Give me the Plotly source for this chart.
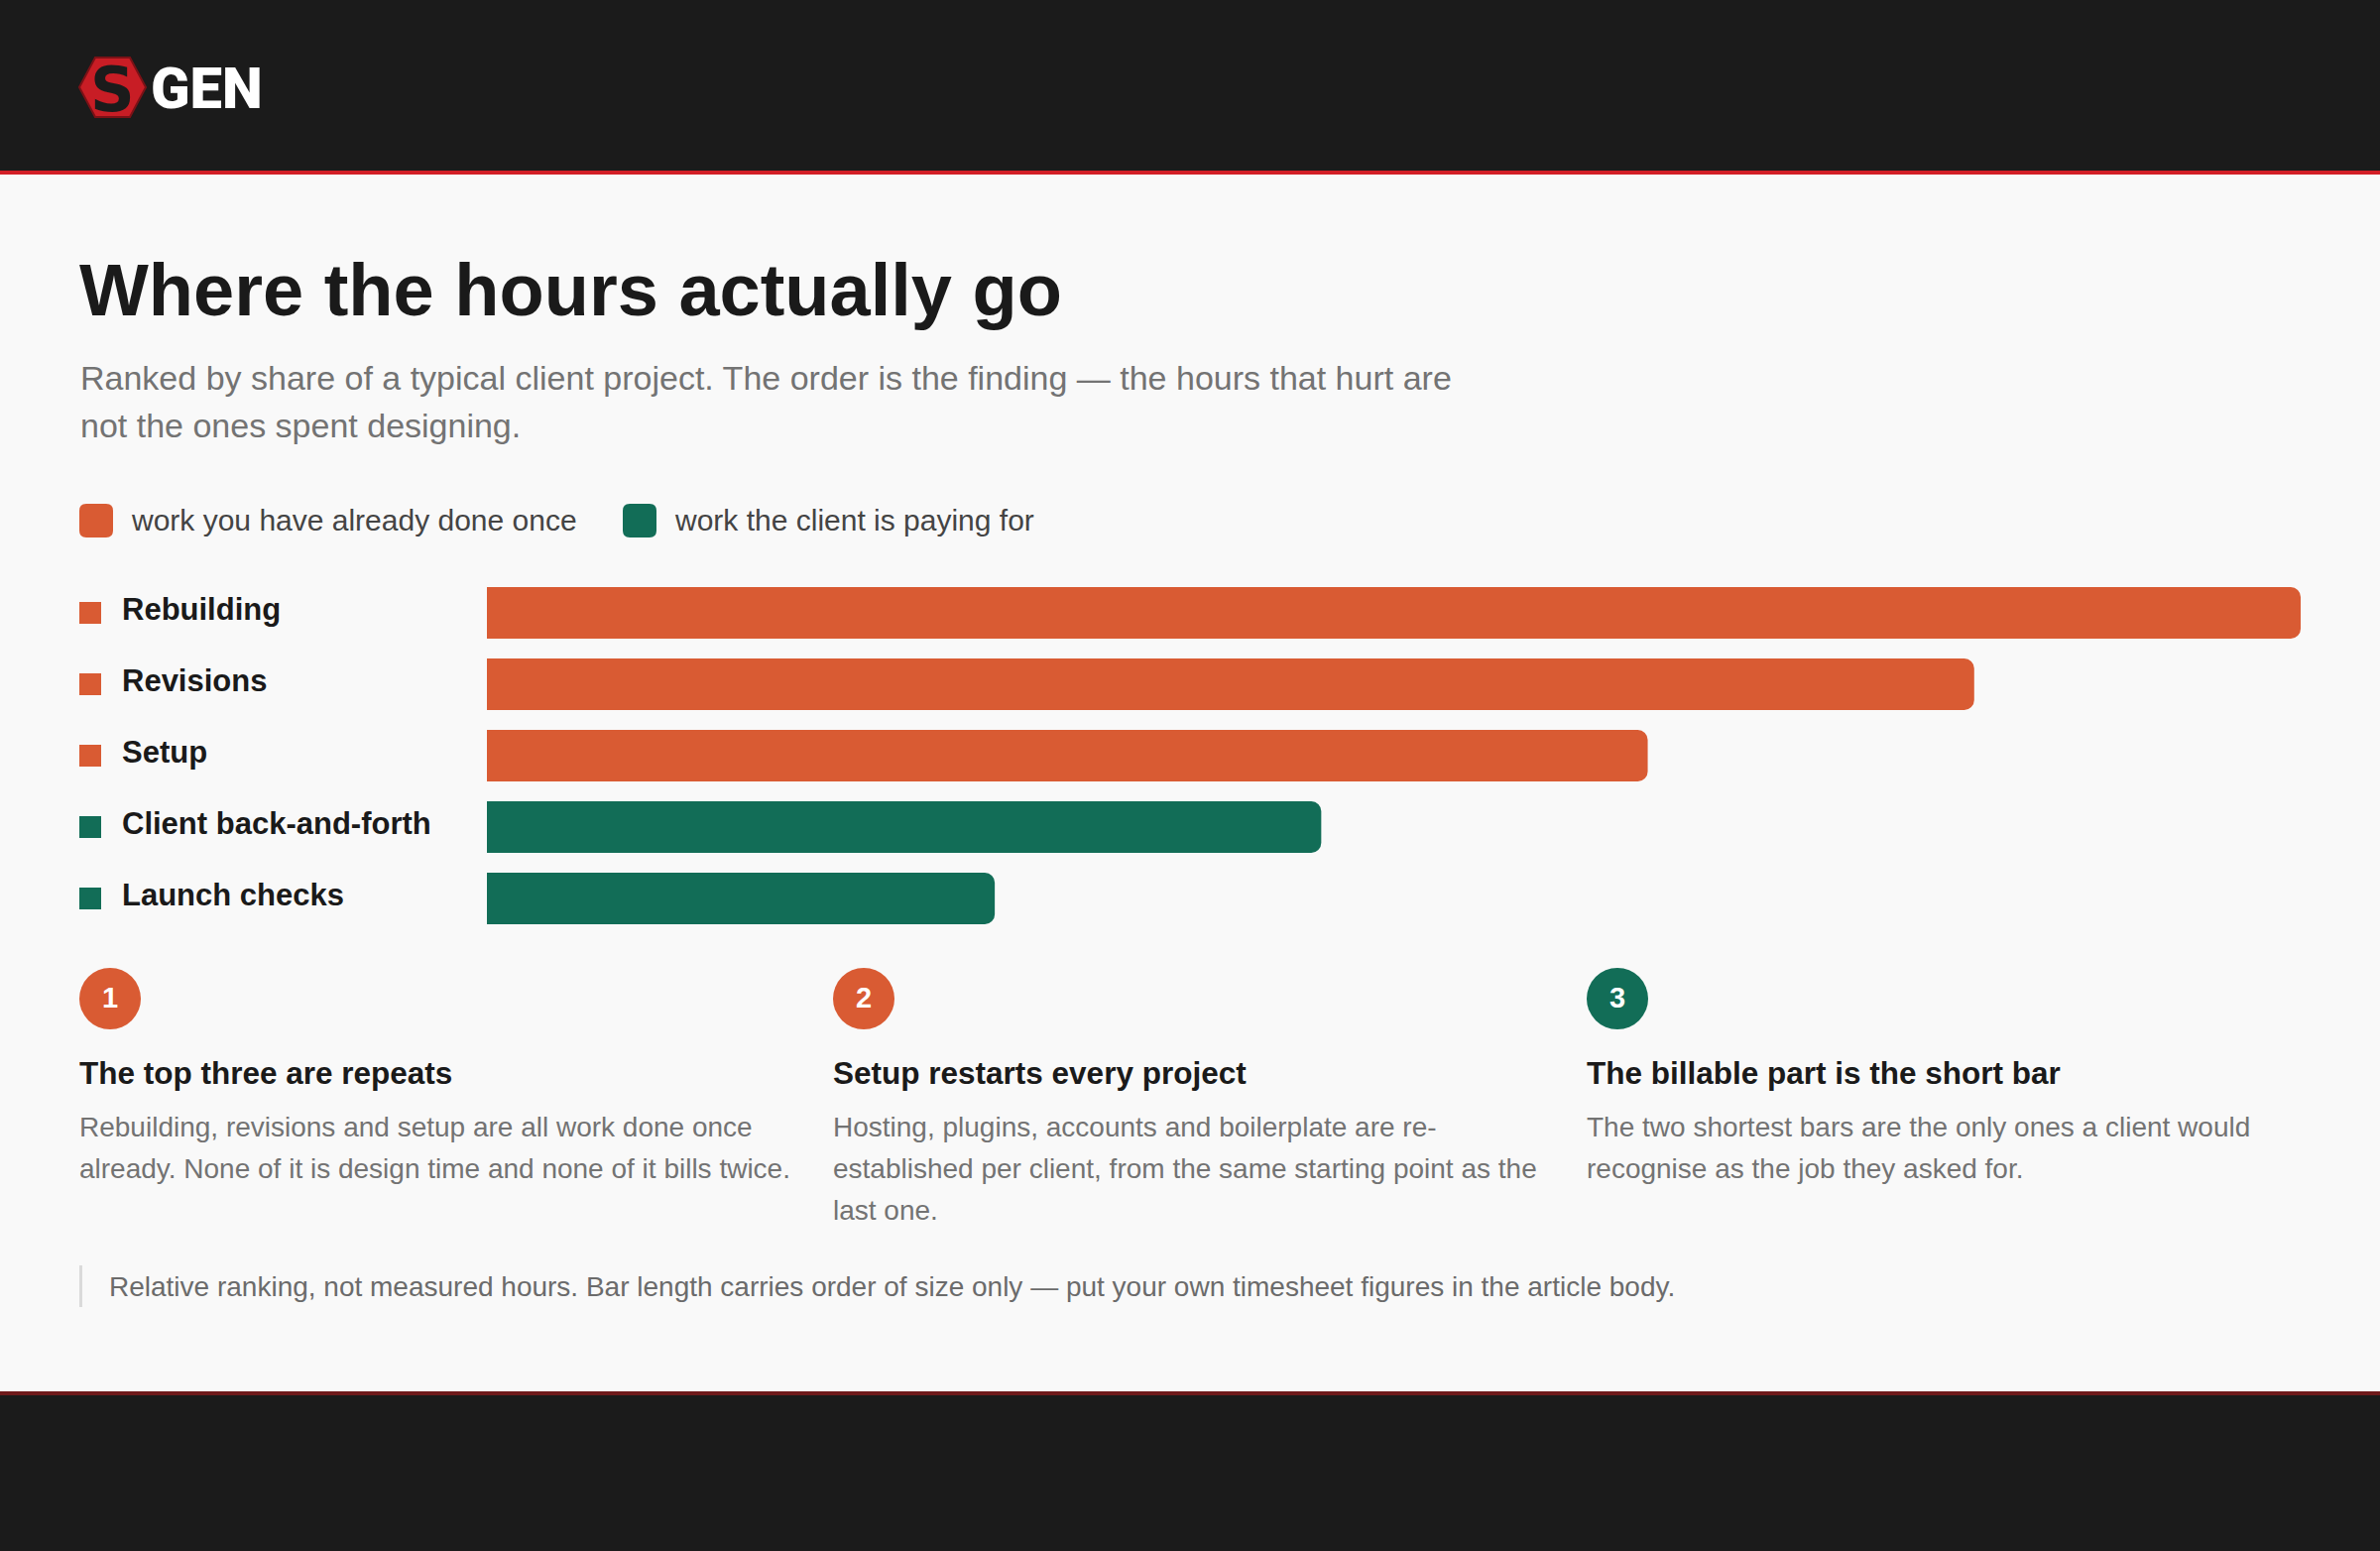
import plotly.graph_objects as go

W, H = 2400, 1564

# --- data -------------------------------------------------------------
categories = ["Rebuilding", "Revisions", "Setup", "Client back-and-forth", "Launch checks"]
share = [100, 82, 64, 46, 28]          # relative ranking, longest = 100
kind = ["repeat", "repeat", "repeat", "billable", "billable"]

legend_text = {
    "repeat": "work you have already done once",
    "billable": "work the client is paying for",
}

card_numbers = ["1", "2", "3"]
card_kind = ["repeat", "repeat", "billable"]
card_titles = [
    "The top three are repeats",
    "Setup restarts every project",
    "The billable part is the short bar",
]
card_lines = [
    ["Rebuilding, revisions and setup are all work done once",
     "already. None of it is design time and none of it bills twice."],
    ["Hosting, plugins, accounts and boilerplate are re-",
     "established per client, from the same starting point as the",
     "last one."],
    ["The two shortest bars are the only ones a client would",
     "recognise as the job they asked for."],
]

title = "Where the hours actually go"
subtitle = [
    "Ranked by share of a typical client project. The order is the finding \u2014 the hours that hurt are",
    "not the ones spent designing.",
]
footnote = ("Relative ranking, not measured hours. Bar length carries order of size only "
            "\u2014 put your own timesheet figures in the article body.")

# --- style ------------------------------------------------------------
COLORS = {"repeat": "#d95b33", "billable": "#126d57"}
FONT = "Liberation Sans, Arial, Helvetica, sans-serif"
INK = "#1a1a1a"
MUTED = "#737373"


def px(x):
    return x / W


def py(y):
    return 1 - y / H


def rrect(x0, y0, x1, y1, r):
    # rounded rectangle path in paper coords (pixel input)
    pts = [
        ("M", x0 + r, y0), ("L", x1 - r, y0), ("Q", x1, y0, x1, y0 + r),
        ("L", x1, y1 - r), ("Q", x1, y1, x1 - r, y1), ("L", x0 + r, y1),
        ("Q", x0, y1, x0, y1 - r), ("L", x0, y0 + r), ("Q", x0, y0, x0 + r, y0),
    ]
    out = []
    for p in pts:
        if p[0] == "Q":
            out.append(f"Q{px(p[1]):.5f},{py(p[2]):.5f} {px(p[3]):.5f},{py(p[4]):.5f}")
        else:
            out.append(f"{p[0]}{px(p[1]):.5f},{py(p[2]):.5f}")
    return " ".join(out) + " Z"


def note(x, y, text, size, color, weight=400, family=FONT, xanchor="left"):
    return dict(x=px(x), y=py(y), xref="paper", yref="paper", text=text, showarrow=False,
                xanchor=xanchor, yanchor="middle",
                font=dict(family=family, size=size, color=color, weight=weight))


fig = go.Figure()

# bars, one trace per kind so colours follow the legend
for k in ["repeat", "billable"]:
    xs = [v for v, kk in zip(share, kind) if kk == k]
    ys = [c for c, kk in zip(categories, kind) if kk == k]
    fig.add_trace(go.Bar(
        x=xs, y=ys, orientation="h", name=legend_text[k],
        marker=dict(color=COLORS[k], cornerradius=10, line=dict(width=0)),
        hovertemplate="%{y}<extra></extra>", showlegend=False,
    ))

# small category squares left of the labels
fig.add_trace(go.Scatter(
    x=[91] * len(categories), y=categories, xaxis="x2", yaxis="y",
    mode="markers", hoverinfo="skip", showlegend=False,
    marker=dict(symbol="square", size=22, color=[COLORS[k] for k in kind]),
))

shapes = []
ann = []

# header / footer bands
shapes.append(dict(type="rect", xref="paper", yref="paper", x0=0, x1=1, y0=py(172), y1=1,
                   fillcolor="#1b1b1b", line_width=0, layer="below"))
shapes.append(dict(type="rect", xref="paper", yref="paper", x0=0, x1=1, y0=py(176), y1=py(172),
                   fillcolor="#d21f26", line_width=0, layer="below"))
shapes.append(dict(type="rect", xref="paper", yref="paper", x0=0, x1=1, y0=py(1407), y1=py(1403),
                   fillcolor="#6f1a1b", line_width=0, layer="below"))
shapes.append(dict(type="rect", xref="paper", yref="paper", x0=0, x1=1, y0=0, y1=py(1407),
                   fillcolor="#1b1b1b", line_width=0, layer="below"))

# logo: hexagon with an S, then GEN
hexagon = [(80, 88), (96, 58), (131, 58), (147, 88), (131, 118), (96, 118)]
path = "M" + " L".join(f"{px(a):.5f},{py(b):.5f}" for a, b in hexagon) + " Z"
shapes.append(dict(type="path", xref="paper", yref="paper", path=path,
                   fillcolor="#c81d25", line=dict(color="#7c1116", width=2)))
ann.append(note(113, 90, "S", 62, "#1b1b1b", 900, "DejaVu Sans", "center"))
ann.append(note(150, 89, "GEN", 58, "#ffffff", 900, "Roboto, DejaVu Sans"))

# title + subtitle
ann.append(note(78, 292, title, 74, INK, 700))
for i, line in enumerate(subtitle):
    ann.append(note(79, 381 + 48 * i, line, 34, MUTED))

# top legend
legend_pos = {"repeat": (80, 130), "billable": (628, 678)}
for k, (sx, tx) in legend_pos.items():
    shapes.append(dict(type="path", xref="paper", yref="paper", path=rrect(sx, 508, sx + 34, 542, 7),
                       fillcolor=COLORS[k], line_width=0))
    ann.append(note(tx, 524, legend_text[k], 30, "#444444"))

# bar labels
for c in categories:
    ann.append(dict(x=121, xref="x2", y=c, yref="y", yshift=4, text=c, showarrow=False,
                    xanchor="left", yanchor="middle",
                    font=dict(family=FONT, size=31, color=INK, weight=700)))

# cards
card_x = [80, 840, 1600]
for i in range(3):
    cx = card_x[i]
    shapes.append(dict(type="circle", xref="paper", yref="paper",
                       x0=px(cx), x1=px(cx + 62), y0=py(1038), y1=py(976),
                       fillcolor=COLORS[card_kind[i]], line_width=0))
    ann.append(note(cx + 31, 1006, card_numbers[i], 29, "#ffffff", 700, xanchor="center"))
    ann.append(note(cx - 2, 1082, card_titles[i], 31.5, INK, 700))
    for j, line in enumerate(card_lines[i]):
        ann.append(note(cx - 2, 1136 + 42 * j, line, 28, MUTED))

# footnote with left rule
shapes.append(dict(type="rect", xref="paper", yref="paper", x0=px(80), x1=px(83),
                   y0=py(1318), y1=py(1276), fillcolor="#dadada", line_width=0))
ann.append(note(108, 1297, footnote, 28, "#6b6b6b"))

fig.update_layout(
    width=W, height=H,
    margin=dict(l=0, r=0, t=0, b=0),
    paper_bgcolor="#f9f9f9", plot_bgcolor="rgba(0,0,0,0)",
    barmode="overlay", bargap=20 / 72,
    showlegend=False,
    xaxis=dict(domain=[px(491), px(2320)], range=[0, 100], visible=False, fixedrange=True),
    xaxis2=dict(domain=[0, px(491)], range=[0, 491], visible=False, anchor="y", fixedrange=True),
    yaxis=dict(domain=[py(942), py(582)], categoryorder="array", categoryarray=categories,
               autorange="reversed", visible=False, fixedrange=True),
    shapes=shapes,
    annotations=ann,
    font=dict(family=FONT),
)

fig.write_html("out.html", config={"displayModeBar": False},
               post_script="document.body.style.margin='0';")
